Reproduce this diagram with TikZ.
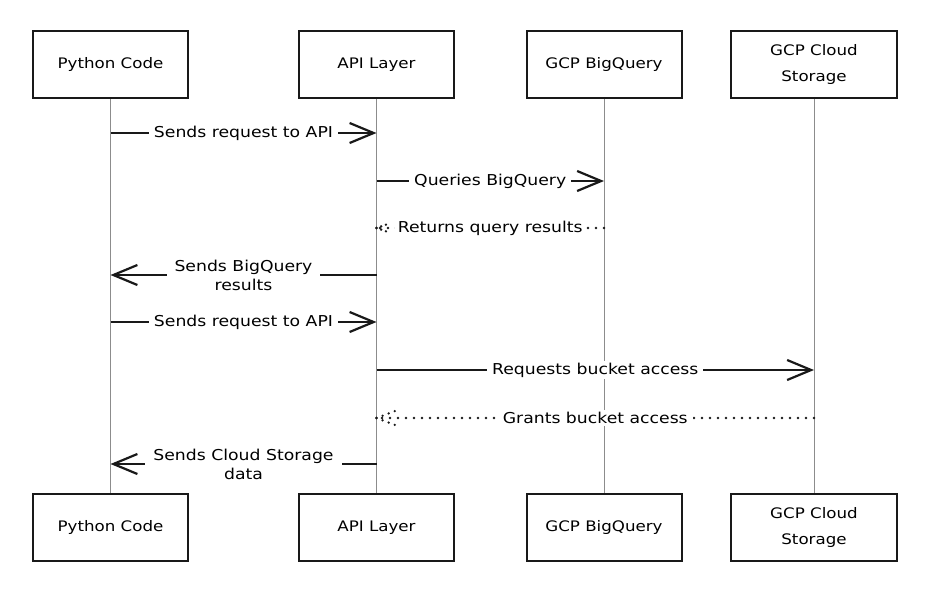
\documentclass[tikz,border=0pt]{standalone}
\usepackage{fontspec}
\setmainfont{DejaVu Sans}[FakeStretch=1.15]
\usetikzlibrary{arrows.meta}
\begin{document}
\begin{tikzpicture}[x=1pt,y=-1pt,
  actor/.style={draw=black!90, line width=2pt, minimum width=155pt, minimum height=67pt,
    align=center, inner sep=0pt, font=\fontsize{14.5}{26}\selectfont, fill=white},
  life/.style={draw=black!45, line width=0.7pt},
  msg/.style={draw=black!90, line width=2.2pt, -{Straight Barb[length=24pt,width=20pt,line width=2.2pt]}},
  ret/.style={draw=black!90, line width=2.6pt, line cap=round, dash pattern=on 0pt off 8pt},
  lbl/.style={fill=white, inner xsep=5pt, inner ysep=2pt, align=center,
    font=\fontsize{15}{19}\selectfont}
]
\useasboundingbox (0,0) rectangle (930,590);
\fill[white] (0,0) rectangle (930,590);

% top actors
\node[actor] (pt) at (110.5,64.5) {Python Code};
\node[actor] (at) at (376.5,64.5) {API Layer};
\node[actor] (bt) at (604,64.5) {GCP BigQuery};
\node[actor, minimum width=166pt] (ct) at (814,64.5) {GCP Cloud\\Storage};
% bottom actors
\node[actor] (pb) at (110.5,527.5) {Python Code};
\node[actor] (ab) at (376.5,527.5) {API Layer};
\node[actor] (bb) at (604,527.5) {GCP BigQuery};
\node[actor, minimum width=166pt] (cb) at (814,527.5) {GCP Cloud\\Storage};

% lifelines
\draw[life] (pt.south) -- (pb.north);
\draw[life] (at.south) -- (ab.north);
\draw[life] (bt.south) -- (bb.north);
\draw[life] (ct.south) -- (cb.north);

% 1
\draw[msg] (pt.south |- 0,133) -- node[lbl]{Sends request to API} (at.south |- 0,133);
% 2
\draw[msg] (at.south |- 0,181) -- node[lbl]{Queries BigQuery} (bt.south |- 0,181);
% 3 return
\coordinate (r3) at (at.south |- 0,228);
\draw[ret] (bt.south |- 0,228) -- node[lbl, inner xsep=3pt]{Returns query results} (r3);
\draw[ret, dash pattern=on 0pt off 5pt] (r3) -- ++(14,-5);
\draw[ret, dash pattern=on 0pt off 5pt] (r3) -- ++(14,5);
% 4
\draw[msg] (at.south |- 0,275) -- node[lbl, inner xsep=8pt]{Sends BigQuery\\results} (pt.south |- 0,275);
% 5
\draw[msg] (pt.south |- 0,322) -- node[lbl]{Sends request to API} (at.south |- 0,322);
% 6
\draw[msg] (at.south |- 0,370) -- node[lbl]{Requests bucket access} (ct.south |- 0,370);
% 7 return
\coordinate (r7) at (at.south |- 0,418);
\draw[ret] (ct.south |- 0,418) -- node[lbl]{Grants bucket access} (r7);
\draw[ret, dash pattern=on 0pt off 6.5pt] (r7) -- ++(24,-9);
\draw[ret, dash pattern=on 0pt off 6.5pt] (r7) -- ++(24,9);
% 8
\draw[msg] (at.south |- 0,464) -- node[lbl, inner xsep=8pt]{Sends Cloud Storage\\data} (pt.south |- 0,464);
\end{tikzpicture}
\end{document}
